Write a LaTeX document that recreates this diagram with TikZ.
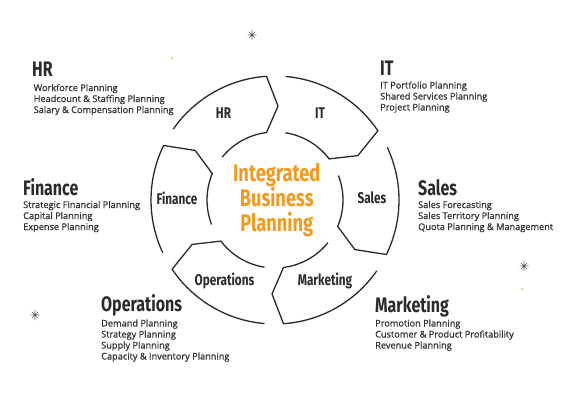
\documentclass[tikz,border=0pt]{standalone}
\usepackage{fontspec}
\setmainfont{Open Sans}[FakeBold=0.9]
\newfontfamily\condfont{Fira Sans}[FakeStretch=0.76]
\definecolor{titlecol}{HTML}{2B2B2B}
\definecolor{bodycol}{HTML}{333333}
\definecolor{ringcol}{HTML}{2A2A2A}
\definecolor{orangecol}{HTML}{F39A1E}
\definecolor{sparkcol}{HTML}{6E6E6E}
\definecolor{dotcol}{HTML}{F2C46A}
\begin{document}
\begin{tikzpicture}[x=1pt,y=-1pt,
  title/.style={anchor=base west, inner sep=0pt, font=\condfont\bfseries\fontsize{21}{21}\selectfont, text=titlecol},
  body/.style={anchor=base west, inner sep=0pt, font=\fontsize{9.2}{10}\selectfont, text=bodycol},
  seglabel/.style={anchor=center, inner sep=0pt, text height=10.5pt, text depth=0pt, font=\condfont\bfseries\fontsize{15.5}{16}\selectfont, text=titlecol},
  centertext/.style={anchor=base, inner sep=0pt, font=\condfont\bfseries\fontsize{24}{25}\selectfont, text=orangecol},
  ring/.style={draw=ringcol, line width=1.3pt, line join=miter},
  spark/.pic={\draw[sparkcol, line width=0.7pt] (-4.5,0)--(4.5,0) (0,-5)--(0,5) (-3.2,-3.2)--(3.2,3.2) (-3.2,3.2)--(3.2,-3.2);
              \fill[sparkcol!70!black] (0,0) circle (1.1);},
  dot/.style={fill=dotcol, draw=none}
]
\path[use as bounding box] (0,0) rectangle (570,420);
\fill[white] (0,0) rectangle (570,420);

% ring segments
\begin{scope}[shift={(275,200)}, yscale=-1]
\foreach \s in {150,90,30,-30,-90,-150}{
  \pgfmathsetmacro\e{\s-60}
  \pgfmathsetmacro\ao{\s-4.86}
  \pgfmathsetmacro\bo{\e+3.93}
  \pgfmathsetmacro\tp{\e-1.83}
  \pgfmathsetmacro\bi{\e+7.18}
  \pgfmathsetmacro\ai{\s-8.88}
  \draw[ring] (\ao:124) arc[start angle=\ao, end angle=\bo, radius=124] -- (\tp:94) -- (\bi:68) arc[start angle=\bi, end angle=\ai, radius=68];
}
\end{scope}

% centre text
\node[centertext] (c1) at (276.7,181.7) {Integrated};
\node[centertext] (c2) at (276.7,206.7) {Business};
\node[centertext] (c3) at (276.7,231.7) {Planning};

% segment labels
\node[seglabel] (sHR) at (223.5,113.5) {HR};
\node[seglabel] (sIT) at (320,113.5) {IT};
\node[seglabel] (sSales) at (372,198.5) {Sales};
\node[seglabel] (sMkt) at (325,280) {Marketing};
\node[seglabel] (sOps) at (224.5,280) {Operations};
\node[seglabel] (sFin) at (177,199) {Finance};

% HR
\node[title] (tHR) at (32,76.5) {HR};
\node[body] (hr1) at (33.5,91) {Workforce Planning};
\node[body] (hr2) at (33.5,102) {Headcount \& Staffing Planning};
\node[body] (hr3) at (33.5,113) {Salary \& Compensation Planning};

% IT
\node[title] (tIT) at (380,75.5) {IT};
\node[body] (it1) at (380,88.5) {IT Portfolio Planning};
\node[body] (it2) at (380,99.5) {Shared Services Planning};
\node[body] (it3) at (380,110.5) {Project Planning};

% Finance
\node[title] (tFin) at (23,195) {Finance};
\node[body] (fi1) at (23,208) {Strategic Financial Planning};
\node[body] (fi2) at (23,219) {Capital Planning};
\node[body] (fi3) at (23,230) {Expense Planning};

% Sales
\node[title] (tSales) at (418,195) {Sales};
\node[body] (sa1) at (418,208) {Sales Forecasting};
\node[body] (sa2) at (418,219) {Sales Territory Planning};
\node[body] (sa3) at (418,230) {Quota Planning \& Management};

% Operations
\node[title] (tOps) at (101,311.5) {Operations};
\node[body] (op1) at (101,326.5) {Demand Planning};
\node[body] (op2) at (101,337.5) {Strategy Planning};
\node[body] (op3) at (101,348.5) {Supply Planning};
\node[body] (op4) at (101,359.5) {Capacity \& Inventory Planning};

% Marketing
\node[title] (tMkt) at (375,312.5) {Marketing};
\node[body] (mk1) at (375,326.5) {Promotion Planning};
\node[body] (mk2) at (375,337.5) {Customer \& Product Profitability};
\node[body] (mk3) at (375,348.5) {Revenue Planning};

% decorations
\pic at (252,35) {spark};
\pic at (524,266) {spark};
\pic at (35,315) {spark};
\fill[dot] (172,58) circle (1.1);
\fill[dot] (522,289) circle (1.1);
\end{tikzpicture}
\end{document}
